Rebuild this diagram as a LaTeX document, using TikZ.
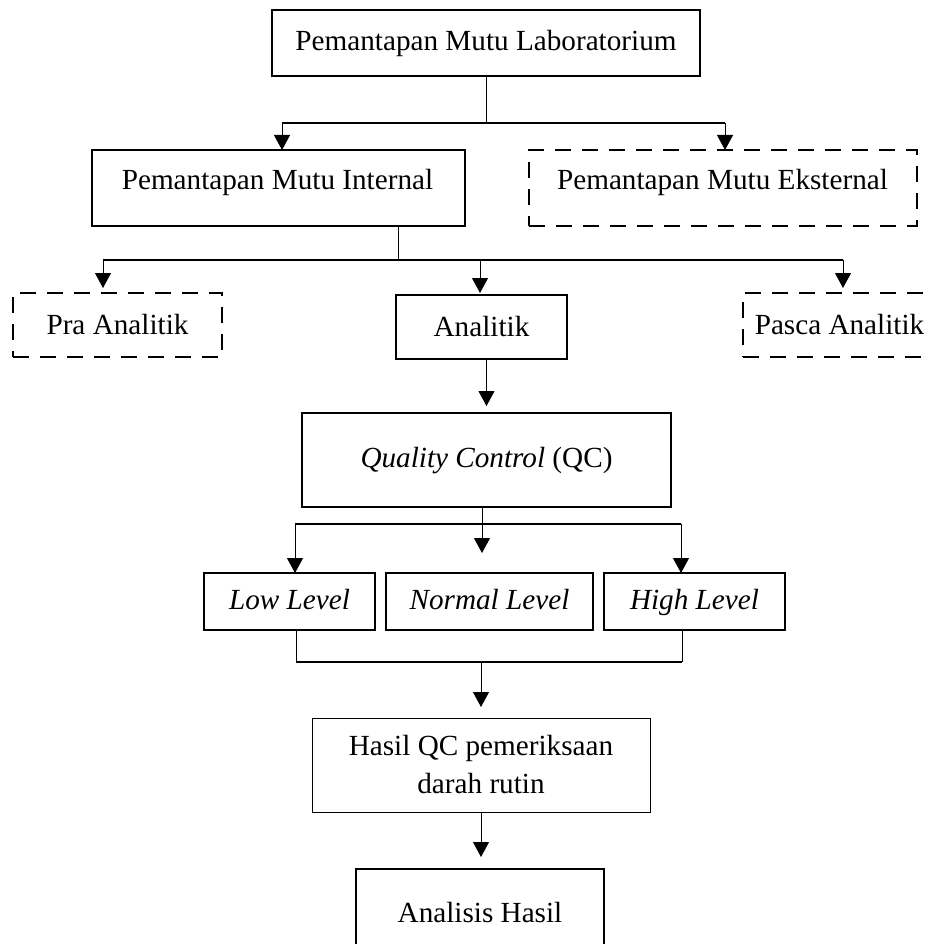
\documentclass[tikz,border=0pt]{standalone}
\usepackage{fontspec}
\setmainfont{Liberation Serif}
\usetikzlibrary{arrows.meta}
\begin{document}
\begin{tikzpicture}[x=1pt,y=-1pt,
  every node/.style={font=\fontsize{29.2}{38}\selectfont, inner sep=0pt, outer sep=0pt},
  box/.style={draw, line width=2pt, rectangle},
  thinbox/.style={draw, line width=1pt, rectangle},
  dbox/.style={box, dash pattern=on 16pt off 11pt},
  conn/.style={line width=1pt},
  bar/.style={line width=1.8pt},
  arr/.style={line width=1pt, -{Triangle[width=16pt,length=15pt]}}]
\useasboundingbox (0,0) rectangle (931,944);
% boxes
\node[box, minimum width=428pt, minimum height=66pt] (top) at (486,43) {Pemantapan Mutu Laboratorium};
\node[box, minimum width=373pt, minimum height=76pt] (int) at (278.5,188) {};
\node (intT) at (277.5,182) {Pemantapan Mutu Internal};
\node[dbox, minimum width=388pt, minimum height=76pt] (eks) at (723,188) {};
\node (eksT) at (722.5,182) {Pemantapan Mutu Eksternal};
\node[dbox, minimum width=209pt, minimum height=64pt] (pra) at (117.5,325) {Pra Analitik};
\node[box, minimum width=171pt, minimum height=64pt] (ana) at (481.5,327) {Analitik};
\node[dbox, minimum width=193pt, minimum height=64pt] (pasca) at (839.5,325) {Pasca Analitik};
\node[box, minimum width=369pt, minimum height=94pt] (qc) at (486.5,460) {\strut\textit{Quality Control} (QC)};
\node[box, minimum width=171pt, minimum height=57pt] (low) at (289.5,601.5) {\strut\textit{Low Level}};
\node[box, minimum width=207pt, minimum height=57pt] (normal) at (489.5,601.5) {\strut\textit{Normal Level}};
\node[box, minimum width=181pt, minimum height=57pt] (high) at (694.5,601.5) {\strut\textit{High Level}};
\node[thinbox, minimum width=338pt, minimum height=94pt, align=center] (hasil) at (481,765) {Hasil QC pemeriksaan\\darah rutin};
\node[box, minimum width=248pt, minimum height=88pt] (anl) at (480,913) {Analisis Hasil};
% level 1
\coordinate (j1) at (486,123);
\coordinate (l1) at (282,123);
\coordinate (r1) at (725,123);
\draw[conn] (top.south) -- (j1);
\draw[bar] (l1) -- (r1);
\draw[arr] (l1) -- (l1 |- int.north);
\draw[arr] (r1) -- (r1 |- eks.north);
% level 2
\coordinate (j2) at (398,260);
\coordinate (l2) at (103,260);
\coordinate (m2) at (480,260);
\coordinate (r2) at (843,260);
\draw[conn] (j2 |- int.south) -- (j2);
\draw[bar] (l2) -- (r2);
\draw[arr, shorten >=5pt] (l2) -- (l2 |- pra.north);
\draw[arr, shorten >=2pt] (m2) -- (m2 |- ana.north);
\draw[arr, shorten >=5pt] (r2) -- (r2 |- pasca.north);
% analitik to qc
\draw[arr, shorten >=7pt] (ana.south -| qc.north) -- (qc.north);
% qc level
\coordinate (j3) at (482,524);
\coordinate (l3) at (295,524);
\coordinate (r3) at (681,524);
\coordinate (nt) at (482,553);
\draw[conn] (j3 |- qc.south) -- (j3);
\draw[bar] (l3) -- (r3);
\draw[arr] (j3) -- (nt);
\draw[arr] (l3) -- (l3 |- low.north);
\draw[arr] (r3) -- (r3 |- high.north);
% bracket
\coordinate (bl) at (296,662);
\coordinate (br) at (682,662);
\coordinate (bm) at (481,662);
\draw[conn] (bl |- low.south) -- (bl);
\draw[conn] (br |- high.south) -- (br);
\draw[bar] (bl) -- (br);
\draw[arr, shorten >=11pt] (bm) -- (bm |- hasil.north);
\draw[arr, shorten >=12pt] (hasil.south) -- (hasil.south |- anl.north);
\end{tikzpicture}
\end{document}
